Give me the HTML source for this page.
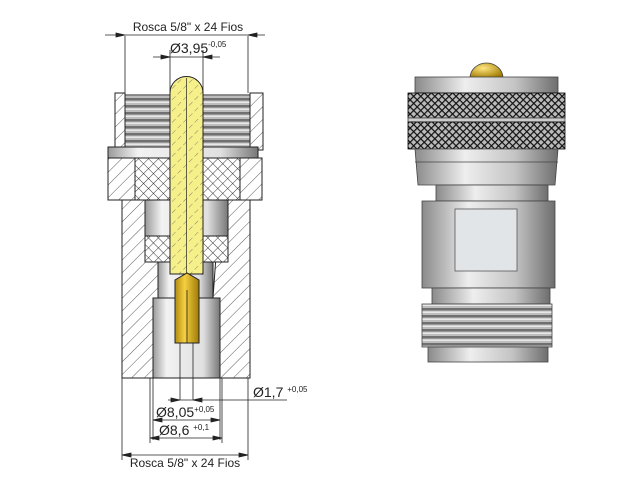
<!DOCTYPE html>
<html><head><meta charset="utf-8"><style>
html,body{margin:0;padding:0;background:#fff;}
svg{display:block;}
text{font-family:"Liberation Sans",sans-serif;fill:#222;}
</style></head><body>
<svg width="640" height="480" viewBox="0 0 640 480" xmlns="http://www.w3.org/2000/svg">
<defs>
<pattern id="hatch" width="9" height="9" patternUnits="userSpaceOnUse" patternTransform="rotate(45)">
<rect width="9" height="9" fill="#fff"/><line x1="0" y1="0" x2="0" y2="9" stroke="#333" stroke-width="0.8"/></pattern>
<pattern id="cross" width="7" height="7" patternUnits="userSpaceOnUse" patternTransform="rotate(45)">
<rect width="7" height="7" fill="#fff"/><line x1="0" y1="0" x2="0" y2="7" stroke="#222" stroke-width="0.9"/><line x1="0" y1="0" x2="7" y2="0" stroke="#222" stroke-width="0.9"/></pattern>
<pattern id="yhatch" width="8" height="8" patternUnits="userSpaceOnUse" patternTransform="rotate(45)">
<rect width="8" height="8" fill="#f6f08a"/><line x1="0" y1="0" x2="0" y2="8" stroke="#555" stroke-width="0.7" stroke-dasharray="5,3"/></pattern>
<pattern id="knurl" width="5" height="5" patternUnits="userSpaceOnUse" patternTransform="rotate(45)">
<rect width="5" height="5" fill="#bbb"/><line x1="0" y1="0" x2="0" y2="5" stroke="#111" stroke-width="2.4"/><line x1="0" y1="0" x2="5" y2="0" stroke="#111" stroke-width="2.4"/></pattern>
<pattern id="thr" width="10" height="7" patternUnits="userSpaceOnUse">
<rect width="10" height="7" fill="#bdbdbd"/><rect y="0" width="10" height="2.5" fill="#707070"/><rect y="3.5" width="10" height="1.5" fill="#e8e8e8"/></pattern>
<linearGradient id="metal" x1="0" x2="1" y1="0" y2="0">
<stop offset="0" stop-color="#8a8a8a"/><stop offset="0.35" stop-color="#eeeeee"/><stop offset="0.7" stop-color="#c4c4c4"/><stop offset="1" stop-color="#6e6e6e"/></linearGradient>
<linearGradient id="bore" x1="0" x2="1"><stop offset="0" stop-color="#9a9a9a"/><stop offset="0.2" stop-color="#f2f2f2"/><stop offset="0.75" stop-color="#e0e0e0"/><stop offset="1" stop-color="#777"/></linearGradient>
<linearGradient id="gold" x1="0" x2="1"><stop offset="0" stop-color="#b08a10"/><stop offset="0.4" stop-color="#f5d040"/><stop offset="1" stop-color="#a07a08"/></linearGradient>
<radialGradient id="dome" cx="0.4" cy="0.35" r="0.7"><stop offset="0" stop-color="#ffe680"/><stop offset="1" stop-color="#a07a00"/></radialGradient>
</defs>

<g stroke="#222" stroke-width="1">
<path d="M115 93 L125 93 L125 150 L115 150 Z" fill="url(#hatch)"/>
<path d="M250 93 L263 93 L263 150 L250 150 Z" fill="url(#hatch)"/>
<rect x="125" y="95" width="125" height="55" fill="url(#thr)"/>
<rect x="108" y="147" width="150" height="11" fill="url(#bore)"/>
<path d="M108 158 L135 158 L135 200 L108 200 Z" fill="url(#hatch)"/>
<path d="M240 158 L262 158 L262 200 L240 200 Z" fill="url(#hatch)"/>
<rect x="135" y="158" width="105" height="42" fill="url(#cross)"/>
<path d="M122 200 L158 200 L158 298 L153 298 L153 378 L122 378 Z" fill="url(#hatch)"/>
<path d="M220 200 L250 200 L250 378 L220 378 L220 298 L213 298 Z" fill="url(#hatch)"/>
<rect x="145" y="200" width="83" height="36" fill="url(#bore)"/>
<rect x="145" y="236" width="83" height="26" fill="url(#cross)"/>
<rect x="158" y="262" width="55" height="36" fill="url(#bore)"/>
<rect x="153" y="298" width="67" height="80" fill="url(#bore)"/>
<path d="M170 274 L170 93 A16.5 16.5 0 0 1 203 93 L203 274 Z" fill="url(#yhatch)"/>
<line x1="186.5" y1="78" x2="186.5" y2="274" stroke-width="0.7"/>
<path d="M175 343 L175 280 L187 273 L199 280 L199 343 Z" fill="url(#gold)"/>
<line x1="187" y1="290" x2="187" y2="343" stroke-width="0.8"/>
</g>
<g stroke="#222" stroke-width="0.8" fill="#222">
<line x1="125" y1="36" x2="125" y2="93"/><line x1="248" y1="36" x2="248" y2="93"/>
<line x1="105" y1="35" x2="265" y2="35"/>
<path d="M125 35 l-9 -2 v4z M248 35 l9 -2 v4z"/>
<line x1="170" y1="50" x2="170" y2="93"/><line x1="203" y1="50" x2="203" y2="93"/>
<line x1="153" y1="57" x2="220" y2="57"/>
<path d="M170 57 l-9 -2 v4z M203 57 l9 -2 v4z"/>
<line x1="180" y1="343" x2="180" y2="400"/><line x1="193" y1="343" x2="193" y2="400"/>
<line x1="168" y1="400" x2="287" y2="400"/>
<path d="M180 400 l-9 -2 v4z M193 400 l9 -2 v4z"/>
<line x1="153" y1="378" x2="153" y2="440"/><line x1="220" y1="378" x2="220" y2="440"/>
<line x1="153" y1="420" x2="220" y2="420"/><path d="M153 420 l9 -2 v4z M220 420 l-9 -2 v4z"/>
<line x1="150" y1="378" x2="150" y2="443"/><line x1="222" y1="378" x2="222" y2="443"/>
<line x1="150" y1="438" x2="222" y2="438"/><path d="M150 438 l9 -2 v4z M222 438 l-9 -2 v4z"/>
<line x1="122" y1="378" x2="122" y2="460"/><line x1="248" y1="378" x2="248" y2="460"/>
<line x1="122" y1="455" x2="248" y2="455"/><path d="M122 455 l9 -2 v4z M248 455 l-9 -2 v4z"/>
</g>
<text x="188" y="31" font-size="12" text-anchor="middle">Rosca 5/8" x 24 Fios</text>
<text x="170" y="53" font-size="14">Ø3,95<tspan font-size="8" dy="-6">-0,05</tspan></text>
<text x="253" y="397" font-size="14">Ø1,7 <tspan font-size="8" dy="-5">+0,05</tspan></text>
<text x="156" y="417" font-size="14">Ø8,05<tspan font-size="8" dy="-5">+0,05</tspan></text>
<text x="159" y="435" font-size="14">Ø8,6 <tspan font-size="8" dy="-5">+0,1</tspan></text>
<text x="185" y="467" font-size="12" text-anchor="middle">Rosca 5/8" x 24 Fios</text>

<g stroke="#444" stroke-width="0.8">
<path d="M470 78 A16.5 15 0 0 1 503 78 Z" fill="url(#dome)"/>
<rect x="415" y="77" width="143" height="16" fill="url(#metal)"/>
<rect x="408" y="93" width="157" height="25" fill="url(#knurl)" stroke="#000"/>
<rect x="408" y="118" width="157" height="4" fill="#ccc"/>
<rect x="408" y="122" width="157" height="27" fill="url(#knurl)" stroke="#000"/>
<path d="M415 149 L558 149 L555 185 L418 185 Z" fill="url(#metal)"/>
<line x1="415" y1="162" x2="558" y2="162"/>
<rect x="436" y="185" width="112" height="16" fill="url(#metal)"/>
<rect x="422" y="201" width="133" height="87" fill="url(#metal)"/>
<rect x="455" y="209" width="62" height="62" fill="#e2e5e8" stroke="#555"/>
<rect x="432" y="288" width="118" height="16" fill="url(#metal)"/>
<rect x="422" y="304" width="130" height="43" fill="url(#thr)"/>
<rect x="428" y="347" width="120" height="15" fill="url(#metal)"/>
</g>
</svg>
</body></html>
